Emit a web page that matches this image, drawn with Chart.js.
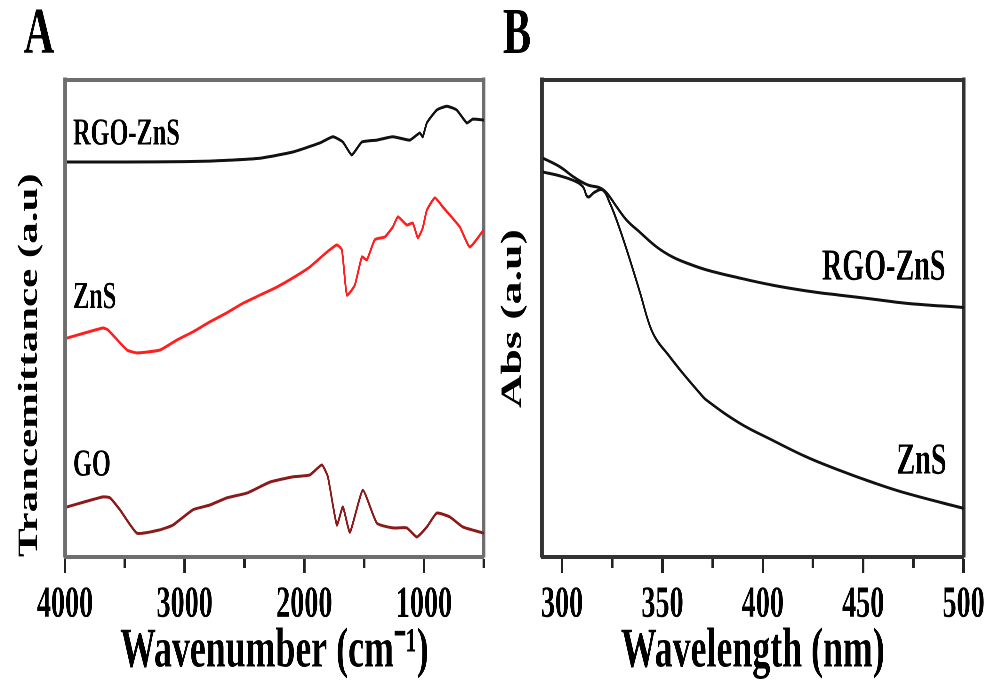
<!DOCTYPE html>
<html>
<head>
<meta charset="utf-8">
<script src="https://cdn.jsdelivr.net/npm/chart.js@4.4.1/dist/chart.umd.min.js"></script>
<style>
html, body { margin: 0; padding: 0; background: #fff; overflow: hidden; width: 991px; height: 688px; }
canvas { position: absolute; top: 0; transform-origin: 0 0; }
</style>
</head>
<body>
<canvas id="ftir"></canvas>
<canvas id="uv"></canvas>
<script>
// Panel A - FTIR, wavenumber (cm-1) vs transmittance (a.u., curves offset)
var rgoZnsWn = [3983, 3500, 3000, 2789, 2371, 2096, 1870, 1761, 1678, 1603, 1519, 1394, 1260, 1118, 1035, 1010, 976, 893, 809, 726, 642, 592, 500];
var rgoZnsT  = [82.8, 82.8, 82.9, 83.0, 83.6, 84.9, 86.8, 88.1, 87.0, 84.3, 87.0, 87.4, 88.1, 87.4, 88.9, 88.1, 91.0, 93.7, 94.5, 93.7, 91.0, 91.8, 91.6];

var znsWn = [3983, 3683, 3641, 3482, 3399, 3206, 3064, 2931, 2789, 2647, 2513, 2371, 2229, 2096, 1954, 1812, 1728, 1686, 1644, 1578, 1519, 1477, 1411, 1327, 1260, 1218, 1143, 1093, 1051, 1010, 976, 909, 843, 701, 617, 500];
var znsT  = [45.9, 48.0, 47.6, 43.4, 42.8, 43.4, 45.5, 47.2, 49.3, 51.2, 53.2, 54.9, 56.6, 58.5, 60.8, 63.9, 65.4, 64.4, 54.9, 57.0, 62.9, 62.3, 66.5, 67.1, 69.2, 71.3, 69.6, 70.0, 66.9, 69.0, 72.7, 75.3, 73.4, 69.2, 65.0, 68.6];

var goWn = [3983, 3683, 3624, 3541, 3399, 3206, 3098, 2931, 2789, 2647, 2480, 2288, 2096, 1954, 1853, 1803, 1728, 1678, 1619, 1511, 1394, 1260, 1143, 1060, 976, 893, 784, 675, 500];
var goT  = [10.5, 12.6, 12.4, 9.9, 5.0, 5.7, 6.7, 9.9, 10.9, 12.4, 13.4, 15.7, 16.8, 17.2, 19.3, 16.8, 6.7, 10.5, 5.2, 14.0, 7.1, 6.1, 6.1, 4.2, 6.3, 9.2, 8.4, 6.3, 5.0];

// Panel B - UV-Vis, wavelength (nm) vs absorbance (a.u.)
var uvRgoNm  = [290.5, 298.9, 306.4, 312.8, 318.8, 322.3, 327.2, 332.2, 338.7, 347.1, 355.0, 363.5, 371.9, 388.3, 404.7, 421.6, 438.0, 454.3, 471.2, 500];
var uvRgoAbs = [83.6, 81.8, 79.5, 78.0, 77.4, 76.3, 73.4, 70.6, 68.1, 65.0, 62.9, 61.4, 60.2, 58.5, 57.0, 55.8, 54.9, 54.1, 53.2, 52.3];

var uvZnsNm  = [290.5, 298.9, 306.4, 310.4, 312.8, 316.3, 320.3, 323.8, 327.2, 332.2, 338.7, 343.6, 347.1, 352.1, 360.0, 368.5, 371.9, 388.3, 404.7, 421.6, 438.0, 454.3, 471.2, 500];
var uvZnsAbs = [80.7, 79.9, 78.8, 77.6, 75.5, 76.5, 76.9, 74.2, 70.6, 64.4, 55.6, 48.6, 45.5, 42.8, 38.6, 34.4, 32.9, 28.1, 24.5, 21.0, 18.2, 15.7, 13.4, 10.2];

var S = 0.64; // the original figure is squeezed horizontally
var SERIF = "'Liberation Serif', 'Times New Roman', serif";

function pts(xs, ys) {
  return xs.map(function(x, i) { return { x: x, y: ys[i] }; });
}

var curveLabels = {
  id: 'curveLabels',
  afterDatasetsDraw: function(chart, args, opts) {
    var ctx = chart.ctx, xs = chart.scales.x, ys = chart.scales.y;
    ctx.save();
    ctx.fillStyle = '#000';
    ctx.textBaseline = 'middle';
    opts.items.forEach(function(it) {
      ctx.font = 'bold ' + it.size + 'px ' + SERIF;
      ctx.textAlign = it.align;
      ctx.fillText(it.text, xs.getPixelForValue(it.x), ys.getPixelForValue(it.y));
    });
    ctx.font = 'bold 66px ' + SERIF;
    ctx.textAlign = 'center';
    ctx.fillText(opts.letter, opts.letterX / S, 36);
    ctx.restore();
  }
};

function frameAxes(color, hw, vw) {
  return {
    xTop: { type: 'linear', position: 'top', ticks: { display: false }, grid: { display: false },
            border: { display: true, color: color, width: hw }, afterFit: function(a) { a.height = 0; } },
    yRight: { type: 'linear', position: 'right', ticks: { display: false }, grid: { display: false },
              border: { display: true, color: color, width: vw }, afterFit: function(a) { a.width = 0; } }
  };
}

function makePanel(id, leftPx, widthPx, cfg) {
  var c = document.getElementById(id);
  c.width = Math.round(widthPx / S);
  c.height = 688;
  c.style.left = leftPx + 'px';
  c.style.transform = 'scaleX(' + S + ')';

  var scales = frameAxes(cfg.frame, 4, 3.5 / S);
  scales.x = {
    type: 'linear', position: 'bottom', min: cfg.min, max: cfg.max, reverse: cfg.reverse,
    afterBuildTicks: function(a) { a.ticks = a.ticks.filter(function(t) { return t.value % cfg.minor === 0; }); },
    ticks: { stepSize: cfg.minor, includeBounds: false, autoSkip: false, maxRotation: 0, padding: 10, color: '#000',
             font: { family: SERIF, size: 44, weight: 'bold', lineHeight: 1 },
             callback: function(v) { return v % cfg.major === 0 ? String(v) : ''; } },
    grid: { display: true, drawOnChartArea: false, drawTicks: true, tickLength: 16, tickWidth: 4, tickColor: '#222',
            tickBorderDash: function(ctx) { return ctx.tick && ctx.tick.value % cfg.major === 0 ? [] : [9, 60]; } },
    border: { display: true, color: cfg.frame, width: 4 },
    title: { display: true, text: cfg.xTitle, color: '#000', padding: { top: 0, bottom: 8 },
             font: { family: SERIF, size: 56, weight: 'bold', lineHeight: 1 } },
    afterFit: function(a) { a.height = 131; }
  };
  scales.y = {
    type: 'linear', position: 'left', min: 0, max: 100,
    ticks: { display: false }, grid: { display: false },
    border: { display: true, color: cfg.frame, width: 3.5 / S },
    title: { display: true, text: cfg.yTitle, align: cfg.yAlign, color: '#000', padding: { top: cfg.yTitlePad, bottom: 0 },
             font: { family: SERIF, size: cfg.ySize, weight: 'bold', lineHeight: 1 } },
    afterFit: function(a) { a.width = cfg.axisW / S; }
  };

  return new Chart(c, {
    type: 'line',
    data: { datasets: cfg.datasets },
    options: {
      responsive: false,
      devicePixelRatio: 2,
      animation: false,
      layout: { padding: { left: 0, right: cfg.padR / S, top: 80, bottom: 0 } },
      plugins: { legend: { display: false }, tooltip: { enabled: false },
                 curveLabels: { items: cfg.labels, letter: cfg.letter, letterX: cfg.letterX } },
      scales: scales
    },
    plugins: [curveLabels]
  });
}

function line(label, xs, ys, color, tension) {
  return { label: label, data: pts(xs, ys), xAxisID: 'x', yAxisID: 'y',
           borderColor: color, borderWidth: 3, pointRadius: 0, tension: tension, fill: false };
}

makePanel('ftir', 0, 525, {
  min: 500, max: 4000, reverse: true, minor: 500, major: 1000,
  xTitle: 'Wavenumber (cm\u207B\u00B9)', yTitle: 'Trancemittance (a.u)', yAlign: 'start', ySize: 43, yTitlePad: 25,
  axisW: 65, padR: 41, frame: '#6e6e6e', letter: 'A', letterX: 39,
  datasets: [
    line('RGO-ZnS', rgoZnsWn, rgoZnsT, '#111111', 0.15),
    line('ZnS', znsWn, znsT, '#ff1f1f', 0.15),
    line('GO', goWn, goT, '#8b1a1a', 0.15)
  ],
  labels: [
    { text: 'RGO-ZnS', x: 3933, y: 88.5, align: 'left', size: 38 },
    { text: 'ZnS', x: 3933, y: 54.3, align: 'left', size: 38 },
    { text: 'GO', x: 3933, y: 19.1, align: 'left', size: 38 }
  ]
});

makePanel('uv', 490, 501, {
  min: 290, max: 500, reverse: false, minor: 25, major: 50,
  xTitle: 'Wavelength (nm)', yTitle: 'Abs (a.u)', yAlign: 'center', ySize: 46, yTitlePad: 13,
  axisW: 52, padR: 26, frame: '#333333', letter: 'B', letterX: 27,
  datasets: [
    line('RGO-ZnS', uvRgoNm, uvRgoAbs, '#111111', 0.4),
    line('ZnS', uvZnsNm, uvZnsAbs, '#111111', 0.4)
  ],
  labels: [
    { text: 'RGO-ZnS', x: 491, y: 60.6, align: 'right', size: 44 },
    { text: 'ZnS', x: 491.5, y: 19.9, align: 'right', size: 44 }
  ]
});
</script>
</body>
</html>
